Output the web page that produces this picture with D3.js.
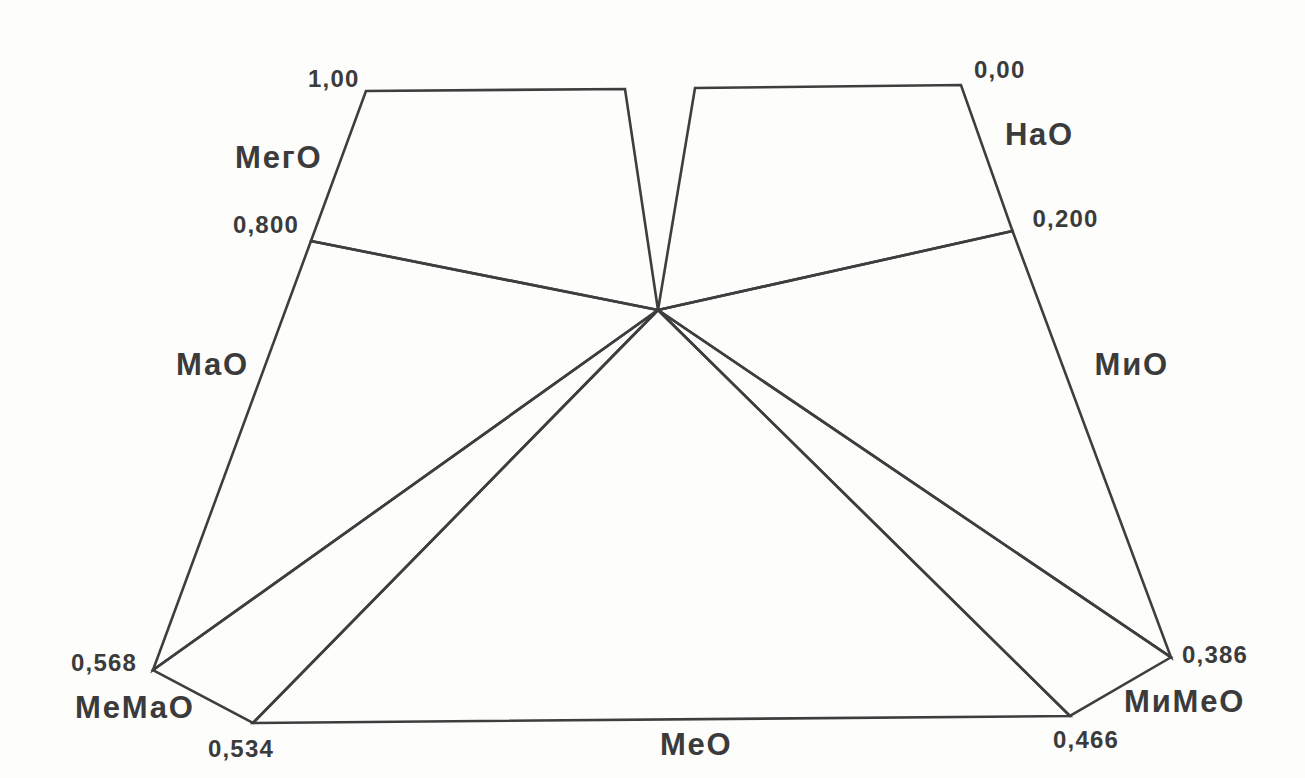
<!DOCTYPE html>
<html>
<head>
<meta charset="utf-8">
<script src="https://cdn.jsdelivr.net/npm/d3@7/dist/d3.min.js"></script>
<style>
  html, body { margin: 0; padding: 0; background: #fdfdfc; }
  svg { display: block; }
  text { font-family: "Liberation Sans", Arial, sans-serif; font-weight: bold; fill: #3b3b3b; }
</style>
</head>
<body>
<svg id="chart" width="1305" height="778"></svg>
<script>
// ---- data ----
const categories = ["НаО", "МиО", "МиМеО", "МеО", "МеМаО", "МаО", "МегО"];
const boundaries = [0.00, 0.200, 0.386, 0.466, 0.534, 0.568, 0.800, 1.00];
const boundaryLabels = ["0,00", "0,200", "0,386", "0,466", "0,534", "0,568", "0,800", "1,00"];

// ---- layout (schematic outline, abstract units 0..100) ----
const hub = [49.56, 35.27];
const outlinePts = [ // one per boundary value
  [79.29, 0.0], [84.35, 22.9], [99.9, 89.7], [89.99, 98.9],
  [9.81, 100.0], [0.0, 91.7], [15.5, 24.45], [20.9, 0.94]
];
const gapRight = [53.19, 0.47];  // where value 0 meets the hub
const gapLeft = [46.32, 0.63];   // where value 1 meets the hub
const valueLabelOffsets = [[13, -7], [20, -4], [11, 6], [-17, 32], [-45, 34], [-82, 1], [-78, -8], [-58, -4]];
const categoryLabelPos = [[83.6, 9.4], [92.4, 45.45], [95.3, 98.3], [49.75, 105.0], [-7.65, 99.2], [2.26, 45.45], [8.05, 13.0]];

const svg = d3.select("#chart");
const x = d3.scaleLinear().domain([0, 100]).range([153, 1172]);
const y = d3.scaleLinear().domain([0, 100]).range([85, 723]);
const line = d3.line().x(d => x(d[0])).y(d => y(d[1]));

// sectors: each category spans [boundaries[i], boundaries[i+1]]
const sectors = categories.map((c, i) => {
  const pts = [hub];
  if (i === 0) pts.push(gapRight);
  pts.push(outlinePts[i], outlinePts[i + 1]);
  if (i === categories.length - 1) pts.push(gapLeft);
  pts.push(hub);
  return {name: c, from: boundaries[i], to: boundaries[i + 1], pts};
});

svg.append("g")
  .selectAll("path")
  .data(sectors)
  .join("path")
  .attr("d", d => line(d.pts))
  .attr("fill", "none")
  .attr("stroke", "#3e3e3e")
  .attr("stroke-width", 2.6)
  .attr("stroke-linejoin", "miter");

// boundary value labels
svg.append("g")
  .selectAll("text")
  .data(boundaries)
  .join("text")
  .attr("x", (d, i) => x(outlinePts[i][0]) + valueLabelOffsets[i][0])
  .attr("y", (d, i) => y(outlinePts[i][1]) + valueLabelOffsets[i][1])
  .attr("font-size", 24)
  .attr("letter-spacing", 1.2)
  .text((d, i) => boundaryLabels[i]);

// category labels
svg.append("g")
  .selectAll("text")
  .data(categories)
  .join("text")
  .attr("x", (d, i) => x(categoryLabelPos[i][0]))
  .attr("y", (d, i) => y(categoryLabelPos[i][1]))
  .attr("font-size", 31)
  .attr("letter-spacing", 1.8)
  .text(d => d);
</script>
</body>
</html>
